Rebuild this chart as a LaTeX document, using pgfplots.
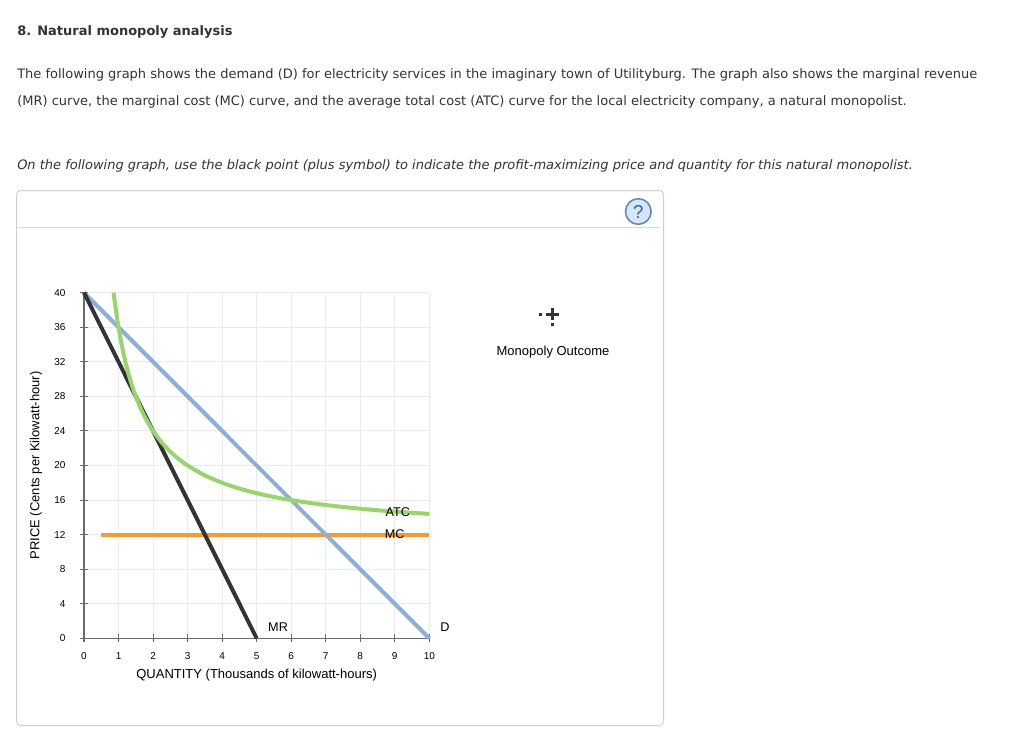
\documentclass[border=0pt]{standalone}
\usepackage{fontspec}
\setmainfont{DejaVu Sans}
\newfontfamily\arialf{Liberation Sans}
\usepackage{pgfplots}
\pgfplotsset{compat=1.18}
\definecolor{txt}{HTML}{333333}
\definecolor{dblue}{HTML}{8EAED6}
\definecolor{mrblack}{HTML}{333333}
\definecolor{atcgreen}{HTML}{9AD46E}
\definecolor{mcorange}{HTML}{F39C34}
\definecolor{gridc}{HTML}{EBEBEB}
\definecolor{axc}{HTML}{6A6A6A}
\definecolor{boxc}{HTML}{CFCFCF}
\definecolor{qfill}{HTML}{D8E5F4}
\definecolor{qdraw}{HTML}{5F8AC0}
\definecolor{qtext}{HTML}{2F5F9C}
\begin{document}
\begin{tikzpicture}
\begin{scope}[x=0.75pt,y=-0.75pt]
\path (0,0) rectangle (1024,743);
% text
\node[anchor=base west,inner sep=0,text=txt,font=\fontsize{9.75}{12}\selectfont\bfseries] at (17,35) {8. Natural monopoly analysis};
\node[anchor=base west,inner sep=0,text=txt,font=\fontsize{9.75}{12}\selectfont] at (17,78) {The following graph shows the demand (D) for electricity services in the imaginary town of Utilityburg. The graph also shows the marginal revenue};
\node[anchor=base west,inner sep=0,text=txt,font=\fontsize{9.75}{12}\selectfont] at (17,105) {(MR) curve, the marginal cost (MC) curve, and the average total cost (ATC) curve for the local electricity company, a natural monopolist.};
\node[anchor=base west,inner sep=0,text=txt,font=\fontsize{9.75}{12}\selectfont\itshape] at (17,169) {On the following graph, use the black point (plus symbol) to indicate the profit-maximizing price and quantity for this natural monopolist.};
% box
\draw[boxc, line width=0.75pt, rounded corners=3pt] (16.5,190.5) rectangle (663.5,725.5);
\draw[boxc!70, line width=0.75pt] (17,227.5) -- (660,227.5);
\filldraw[fill=qfill, draw=qdraw, line width=1.2pt] (638.3,211.5) circle (12.8);
\node[text=qtext, font=\arialf\fontsize{14}{16}\selectfont] at (638.3,211.5) {?};
% legend
\fill[txt] (546,312.7) rectangle (559,315.7);
\fill[txt] (550.7,308) rectangle (554,320);
\fill[txt] (539,312.7) rectangle (542,315.7);
\fill[txt] (550.7,322.7) rectangle (554,326);
\node[text=black, font=\arialf\fontsize{9.75}{11}\selectfont] at (553,352) {Monopoly Outcome};
\end{scope}
\begin{axis}[
  at={(63pt,-478.725pt)}, anchor=south west,
  scale only axis, width=258.98pt, height=259.2pt,
  xmin=0, xmax=10, ymin=0, ymax=40,
  xtick={0,1,...,10}, ytick={0,4,...,40},
  axis lines*=left,
  axis line style={axc, line width=0.9pt},
  tick style={axc, line width=0.8pt},
  tick align=center, major tick length=6pt,
  grid=major, grid style={gridc, line width=0.75pt},
  clip=false,
  /pgf/number format/assume math mode=true,
  tick label style={font=\arialf\fontsize{7.5}{9}\selectfont, text=black},
  xticklabel style={anchor=north, yshift=-4pt},
  yticklabel style={anchor=east, xshift=-7.3pt},
  label style={font=\arialf\fontsize{9.75}{11}\selectfont, text=black},
  xlabel={QUANTITY (Thousands of kilowatt-hours)},
  ylabel={PRICE (Cents per Kilowatt-hour)},
  xlabel style={at={(axis description cs:0.5,-0.106)}, anchor=center},
  ylabel style={at={(axis description cs:-0.139,0.5)}, anchor=center},
]
\addplot[mcorange, line width=3pt] coordinates {(0.5,12) (10,12)};
\addplot[dblue, line width=3pt] coordinates {(0,40) (10,0)};
\addplot[mrblack, line width=3pt] coordinates {(0,40) (5,0)};
\addplot[atcgreen, line width=3pt, smooth] coordinates {
(0.857,40) (0.9,38.67) (0.95,37.26) (1,36) (1.1,33.82) (1.2,32) (1.3,30.46) (1.4,29.14) (1.5,28) (1.65,26.55) (1.8,25.33) (2,24) (2.25,22.67) (2.5,21.6) (2.75,20.73) (3,20) (3.5,18.86) (4,18) (4.5,17.33) (5,16.8) (5.5,16.36) (6,16) (6.5,15.69) (7,15.43) (7.5,15.2) (8,15) (8.5,14.82) (9,14.67) (9.5,14.53) (10,14.4)};
\node[font=\arialf\fontsize{9.5}{11}\selectfont, text=black] at (axis cs:9.09,14.6) {ATC};
\node[font=\arialf\fontsize{9.5}{11}\selectfont, text=black] at (axis cs:9.0,12.07) {MC};
\node[font=\arialf\fontsize{9.5}{11}\selectfont, text=black] at (axis cs:5.62,1.3) {MR};
\node[font=\arialf\fontsize{9.5}{11}\selectfont, text=black] at (axis cs:10.45,1.3) {D};
\end{axis}
\end{tikzpicture}
\end{document}
